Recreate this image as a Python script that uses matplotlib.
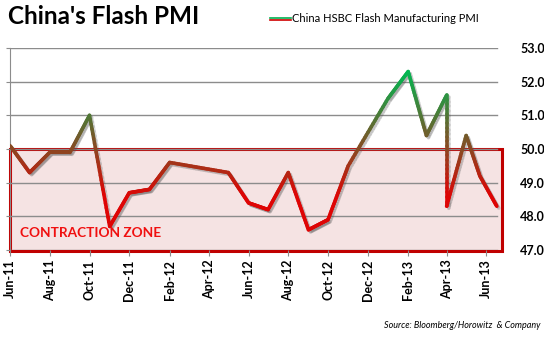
import numpy as np
import pandas as pd
import matplotlib
matplotlib.use("Agg")
import matplotlib.pyplot as plt
import matplotlib.dates as mdates
import matplotlib.patheffects as pe
from matplotlib.collections import LineCollection
from matplotlib.patches import Rectangle
from matplotlib.lines import Line2D

# --- data ---
dates = ["2011-06-01", "2011-07-01", "2011-08-01", "2011-09-01", "2011-10-01",
         "2011-11-01", "2011-12-01", "2012-01-01", "2012-02-01", "2012-05-01",
         "2012-06-01", "2012-07-01", "2012-08-01", "2012-09-01", "2012-10-01",
         "2012-11-01", "2013-01-01", "2013-02-01", "2013-03-01", "2013-04-01",
         "2013-04-01", "2013-05-01", "2013-05-22", "2013-06-17"]
pmi = [50.1, 49.3, 49.9, 49.9, 51.0,
       47.7, 48.7, 48.8, 49.6, 49.3,
       48.4, 48.2, 49.3, 47.6, 47.9,
       49.5, 51.5, 52.3, 50.4, 51.6,
       48.3, 50.4, 49.2, 48.3]
y_ticks = [47.0, 48.0, 49.0, 50.0, 51.0, 52.0, 53.0]
x_start, x_end = "2011-06-01", "2013-06-25"

plt.rcParams['font.family'] = ['Lato', 'DejaVu Sans']

fig = plt.figure(figsize=(5.44, 3.43), dpi=100)
ax = fig.add_axes([10 / 544, 1 - 250 / 343, 492 / 544, 202 / 343])

x = mdates.date2num(pd.to_datetime(dates))
y = np.array(pmi)
x0 = mdates.date2num(pd.Timestamp(x_start))
x1 = mdates.date2num(pd.Timestamp(x_end))

# red -> green colour by level (segments split only to draw the gradient)
red = np.array([0.87, 0.02, 0.02])
green = np.array([0.0, 0.72, 0.32])
lo, hi = 48.6, 52.3
segs, cols = [], []
for i in range(len(x) - 1):
    xs = np.linspace(x[i], x[i + 1], 25)
    ys = np.linspace(y[i], y[i + 1], 25)
    for j in range(24):
        segs.append([(xs[j], ys[j]), (xs[j + 1], ys[j + 1])])
        t = np.clip(((ys[j] + ys[j + 1]) / 2 - lo) / (hi - lo), 0, 1)
        cols.append(red * (1 - t) + green * t)

# contraction zone box
ax.add_patch(Rectangle((x0, 46.97), x1 - x0, 50.0 - 46.97, facecolor="#f5e3e3",
                       edgecolor="#c00000", linewidth=2.2, zorder=1, clip_on=False))

for v in y_ticks:
    ax.axhline(v, xmin=0, xmax=0.99, color="#8c8c8c", linewidth=1.0, zorder=2)

lc = LineCollection(segs, colors=cols, linewidth=2.6, capstyle="round", zorder=4,
                    path_effects=[pe.SimpleLineShadow(offset=(1.5, -1.5), alpha=0.18,
                                                      shadow_color="#555555"),
                                  pe.Normal()])
ax.add_collection(lc)

ax.text(0.02, 0.085, "CONTRACTION ZONE", transform=ax.transAxes, color="#f01010",
        fontsize=9.8, fontweight="bold", va="center", ha="left", zorder=5)

ax.set_xlim(x0, x1)
ax.set_ylim(47.0, 53.0)

ax.set_yticks(y_ticks)
ax.set_yticklabels([f"{v:.1f}" for v in y_ticks], fontweight="bold", fontsize=9)
ax.tick_params(axis="y", left=True, right=False, labelleft=False, labelright=True,
               length=3, color="#8c8c8c", pad=10)

ax.xaxis.set_major_locator(mdates.MonthLocator(bymonth=[2, 4, 6, 8, 10, 12]))
ax.xaxis.set_major_formatter(mdates.DateFormatter("%b-%y"))
ax.tick_params(axis="x", length=4, color="#8c8c8c", pad=3, labelsize=9)
for lab in ax.get_xticklabels():
    lab.set_rotation(90)
    lab.set_fontweight("bold")

for s in ["top", "right", "bottom"]:
    ax.spines[s].set_visible(False)
ax.spines["left"].set_color("#8c8c8c")

# title, legend, source
fig.text(8 / 544, 1 - 17 / 343, "China's Flash PMI", fontsize=17.5, fontweight="bold",
         va="center", ha="left")
fig.add_artist(Line2D([270 / 544, 291 / 544], [1 - 18 / 343] * 2, color="#00b050", linewidth=1.2))
fig.add_artist(Line2D([270 / 544, 291 / 544], [1 - 20 / 343] * 2, color="#d00000", linewidth=1.2))
fig.text(292 / 544, 1 - 18 / 343, "China HSBC Flash Manufacturing PMI", fontsize=8,
         va="center", ha="left")
fig.text(540 / 544, 1 - 326 / 343, "Source: Bloomberg/Horowitz  & Company", fontsize=6.5,
         style="italic", va="center", ha="right")

fig.savefig("out.png", dpi=100)
